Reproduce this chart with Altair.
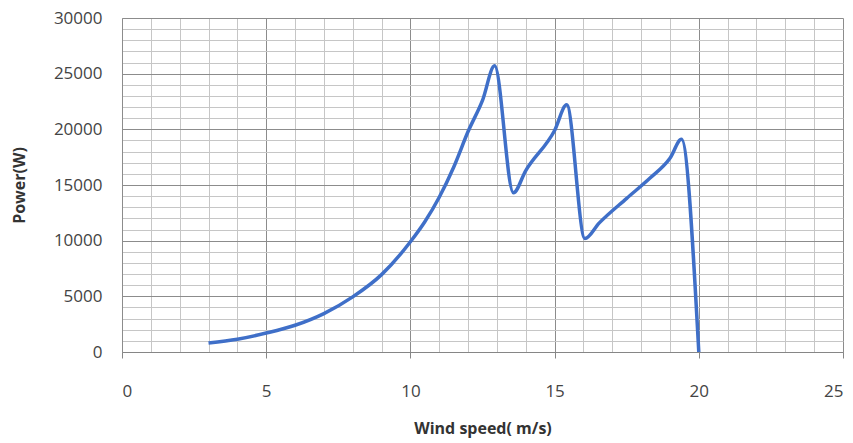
import altair as alt
import pandas as pd

wind_speed = [3, 4, 5, 6, 7, 8, 9, 10, 10.5, 11, 11.5, 12, 12.5, 12.92,
              13.57, 14.0, 15.0, 15.42, 16.05, 16.55, 17.5, 18.3, 19.0, 19.4, 20.0]
power = [800, 1150, 1700, 2400, 3450, 4950, 6950, 9900, 11700, 13900, 16600,
         19800, 22600, 25700, 14300, 16300, 19900, 22200, 10200, 11600,
         13800, 15600, 17400, 19100, 0]

x_ticks = list(range(0, 26))
y_ticks = list(range(0, 30001, 1000))

df = pd.DataFrame({"Wind speed": wind_speed, "Power": power})

font = "Open Sans"

x_axis = alt.Axis(
    values=x_ticks,
    title="Wind speed( m/s)",
    labelExpr="datum.value % 5 === 0 ? datum.label : ''",
    labelOverlap=False,
    labelFontSize=17, labelColor="#444444", labelFont=font,
    labelPadding=25,
    tickSize=6,
    tickColor={"condition": {"test": "datum.value % 5 === 0", "value": "#868686"}, "value": "transparent"},
    gridColor={"condition": {"test": "datum.value % 5 === 0", "value": "#8c8c8c"}, "value": "#c6c6c6"},
    gridWidth=1,
    domainColor="#868686",
    titleFont=font, titleFontSize=16, titleFontWeight="bold", titleColor="#333333",
    titlePadding=21,
)
y_axis = alt.Axis(
    values=y_ticks,
    title="Power(W)",
    format="d",
    labelExpr="datum.value % 5000 === 0 ? datum.label : ''",
    labelOverlap=False,
    labelFontSize=17, labelColor="#444444", labelFont=font,
    labelPadding=20,
    ticks=False,
    gridColor={"condition": {"test": "datum.value % 5000 === 0", "value": "#8c8c8c"}, "value": "#c6c6c6"},
    gridWidth=1,
    domainColor="#8c8c8c",
    titleFont=font, titleFontSize=16, titleFontWeight="bold", titleColor="#333333",
    titlePadding=26,
)

chart = alt.Chart(df).mark_line(
    interpolate="monotone", strokeWidth=3.5, color="#3f6fc8"
).encode(
    x=alt.X("Wind speed:Q", scale=alt.Scale(domain=[0, 25], nice=False), axis=x_axis),
    y=alt.Y("Power:Q", scale=alt.Scale(domain=[0, 30000], nice=False), axis=y_axis),
).properties(
    width=721, height=334,
    autosize=alt.AutoSizeParams(type="none"),
    padding={"left": 114, "top": 10, "right": 2, "bottom": 88},
).configure_view(stroke=None)

chart.save("out.html", embed_options={"renderer": "svg", "actions": False})
